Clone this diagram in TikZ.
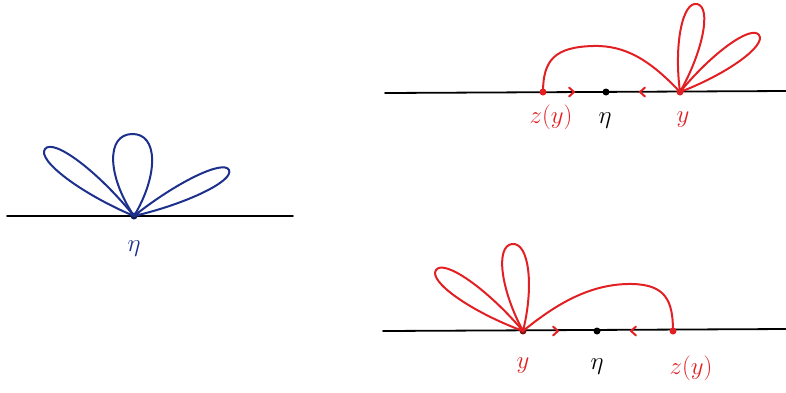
\documentclass[tikz,border=0pt]{standalone}
\usetikzlibrary{calc}
\definecolor{hblue}{RGB}{28,48,140}
\definecolor{hred}{RGB}{226,32,36}
\tikzset{
  axis/.style={black,line width=1.8pt,line cap=round},
  bluestroke/.style={hblue,line width=2pt,line join=round,line cap=round},
  redstroke/.style={hred,line width=2pt,line join=round,line cap=round},
  dot/.style={circle,fill=#1,inner sep=0pt,minimum size=7pt},
  lbl/.style={anchor=base,inner sep=0pt,font=\fontsize{26}{30}\selectfont},
}
\newcommand{\petal}[4]{% style, base, tip, half-width
  \draw[#1] (#2) .. controls ($(#2)!0.5!(#3)!#4!90:(#3)$) and ($(#3)!#4!-90:(#2)$) .. (#3)
    .. controls ($(#3)!#4!90:(#2)$) and ($(#2)!0.5!(#3)!#4!-90:(#3)$) .. (#2);}
\newcommand{\chevr}[3]{% style, point, direction (+1 right, -1 left)
  \draw[#1] ($(#2)+(-#3*5,-4.5)$) -- (#2) -- ($(#2)+(-#3*5,4.5)$);}
\begin{document}
\begin{tikzpicture}[x=1pt,y=-1pt]
\useasboundingbox (0,0) rectangle (786,392);
% ---------- left panel ----------
\coordinate (l0) at (7,216);
\coordinate (l1) at (293,216);
\draw[axis] (l0) -- (l1);
\node[dot=hblue!60!black] (etaL) at (134,216) {};
\coordinate (tL1) at (45,149);
\coordinate (tL2) at (132,134);
\coordinate (tL3) at (229,170);
\petal{bluestroke}{etaL.center}{tL1}{14pt}
\petal{bluestroke}{etaL.center}{tL2}{26pt}
\petal{bluestroke}{etaL.center}{tL3}{12pt}
\node[lbl,hblue] (etaLl) at (134,251) {$\eta$};
% ---------- top right panel ----------
\coordinate (a0) at (385,93);
\coordinate (a1) at (786,91);
\draw[axis] (a0) -- (a1);
\node[dot=hred] (zA) at (543,92) {};
\node[dot=black] (etaA) at (606,92) {};
\node[dot=hred] (yA) at (680,92) {};
\coordinate (tA1) at (697,4);
\coordinate (tA2) at (759,35);
\petal{redstroke}{yA.center}{tA1}{15pt}
\petal{redstroke}{yA.center}{tA2}{13pt}
\draw[redstroke] (zA.center) .. controls (543,60) and (555,47) .. (593,46)
  .. controls (625,45) and (650,60) .. (yA.center);
\coordinate (arA1) at (574,92);
\coordinate (arA2) at (640,92);
\chevr{redstroke}{arA1}{1}
\chevr{redstroke}{arA2}{-1}
\node[lbl,hred] (zAl) at (551,123) {$z(y)$};
\node[lbl,black] (etaAl) at (605,123) {$\eta$};
\node[lbl,hred] (yAl) at (683,122) {$y$};
% ---------- bottom right panel ----------
\coordinate (b0) at (383,331);
\coordinate (b1) at (786,329);
\draw[axis] (b0) -- (b1);
\node[dot=hred!60!black] (yB) at (523,331) {};
\node[dot=black] (etaB) at (597,331) {};
\node[dot=hred] (zB) at (673,331) {};
\coordinate (tB1) at (436,270);
\coordinate (tB2) at (512,244);
\petal{redstroke}{yB.center}{tB1}{14pt}
\petal{redstroke}{yB.center}{tB2}{17pt}
\draw[redstroke] (yB.center) .. controls (555,305) and (590,283) .. (633,284)
  .. controls (665,285) and (673,300) .. (zB.center);
\coordinate (arB1) at (558,331);
\coordinate (arB2) at (631,331);
\chevr{redstroke}{arB1}{1}
\chevr{redstroke}{arB2}{-1}
\node[lbl,hred] (yBl) at (523,368) {$y$};
\node[lbl,black] (etaBl) at (597,369) {$\eta$};
\node[lbl,hred] (zBl) at (691,374) {$z(y)$};
\end{tikzpicture}
\end{document}
